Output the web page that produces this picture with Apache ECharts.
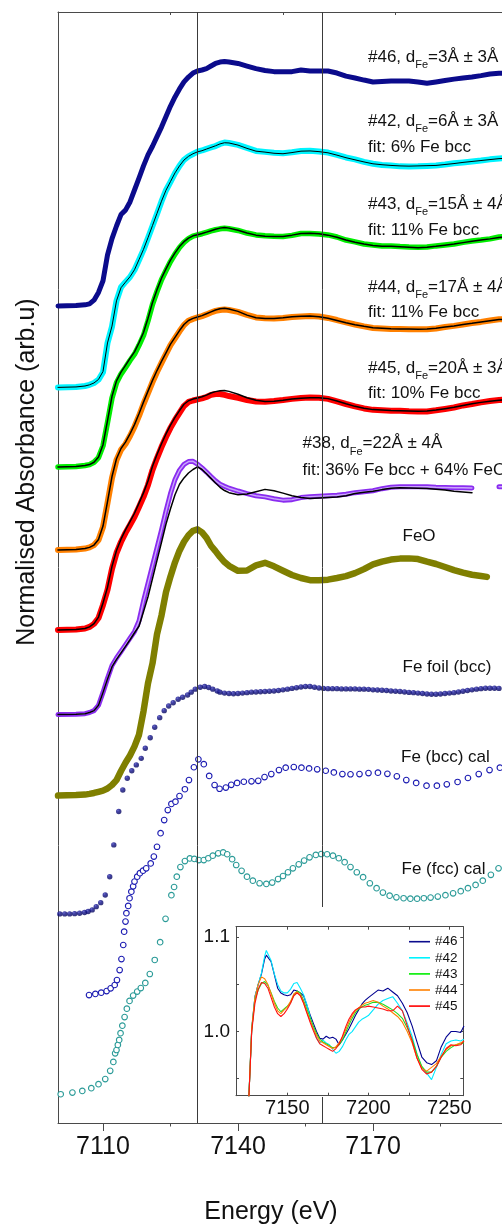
<!DOCTYPE html>
<html>
<head>
<meta charset="utf-8">
<script src="https://cdn.jsdelivr.net/npm/echarts@6/dist/echarts.min.js"></script>
<style>
html, body { margin: 0; padding: 0; background: #fff; }
#chart { width: 502px; height: 1225px; }
</style>
</head>
<body>
<div id="chart"></div>
<script>
// ---------------------------------------------------------------------------
// Fe K-edge XANES of the Fe/FeO films (normalised, stacked) with references
// ---------------------------------------------------------------------------

// Energy grid shared by the measured spectra (eV)
const energy = [7100, 7104, 7106, 7107, 7108, 7109, 7110, 7111, 7112, 7113, 7114, 7115, 7116, 7117, 7118,
  7119, 7120, 7121, 7122, 7123, 7124, 7125, 7126, 7127, 7128, 7129, 7130, 7131, 7132, 7133, 7134, 7135,
  7136, 7137, 7138, 7140, 7142, 7144, 7146, 7148, 7150, 7152, 7154, 7156, 7158, 7160, 7162, 7164, 7166,
  7168, 7170, 7172, 7174, 7176, 7178, 7180, 7182, 7184, 7186, 7188, 7190, 7192, 7194, 7196, 7198, 7200];

// Normalised absorbance of the samples and of their linear-combination fits
const s46 = [0, 0.002, 0.005, 0.009, 0.025, 0.058, 0.108, 0.218, 0.288, 0.342, 0.391, 0.41, 0.445, 0.496, 0.547,
  0.599, 0.646, 0.683, 0.724, 0.765, 0.81, 0.855, 0.894, 0.928, 0.958, 0.979, 0.996, 1.005, 1.009, 1.015, 1.026,
  1.037, 1.043, 1.045, 1.043, 1.037, 1.026, 1.015, 1.007, 1.002, 1.002, 1.002, 1.009, 1.005, 1.005, 1.005, 0.996,
  0.983, 0.975, 0.966, 0.958, 0.96, 0.962, 0.962, 0.962, 0.958, 0.952, 0.958, 0.964, 0.97, 0.975, 0.979, 0.985,
  0.992, 0.995, 0.996];

const s42 = [0, 0.002, 0.006, 0.011, 0.019, 0.033, 0.065, 0.19, 0.26, 0.37, 0.428, 0.451, 0.472, 0.502, 0.545,
  0.588, 0.639, 0.69, 0.742, 0.795, 0.843, 0.879, 0.916, 0.947, 0.973, 0.988, 0.998, 1.008, 1.013, 1.02, 1.026,
  1.032, 1.041, 1.047, 1.045, 1.037, 1.024, 1.011, 1.007, 1.003, 1.001, 1.005, 1.011, 1.012, 1.009, 1.004, 0.994,
  0.983, 0.975, 0.964, 0.956, 0.951, 0.949, 0.945, 0.944, 0.945, 0.947, 0.949, 0.953, 0.958, 0.962, 0.966, 0.97,
  0.975, 0.979, 0.981];
const fit42 = [0, 0.002, 0.006, 0.011, 0.019, 0.034, 0.068, 0.19, 0.262, 0.37, 0.426, 0.45, 0.473, 0.503, 0.546,
  0.59, 0.64, 0.692, 0.744, 0.796, 0.843, 0.88, 0.917, 0.947, 0.972, 0.988, 0.999, 1.007, 1.012, 1.019, 1.026,
  1.033, 1.041, 1.046, 1.045, 1.036, 1.022, 1.01, 1.006, 1.001, 0.999, 1.004, 1.01, 1.011, 1.008, 1.003, 0.993,
  0.982, 0.973, 0.964, 0.956, 0.952, 0.949, 0.947, 0.946, 0.947, 0.948, 0.949, 0.953, 0.957, 0.962, 0.966, 0.97,
  0.974, 0.978, 0.98];

const s43 = [0, 0.002, 0.006, 0.01, 0.02, 0.04, 0.09, 0.19, 0.295, 0.36, 0.397, 0.425, 0.455, 0.482, 0.52,
  0.562, 0.625, 0.695, 0.75, 0.8, 0.84, 0.878, 0.91, 0.938, 0.96, 0.976, 0.987, 0.992, 0.997, 1.003, 1.009,
  1.014, 1.018, 1.02, 1.018, 1.011, 1.0, 0.992, 0.988, 0.986, 0.985, 0.99, 0.998, 0.998, 0.996, 0.992, 0.983,
  0.97, 0.962, 0.953, 0.949, 0.945, 0.945, 0.942, 0.94, 0.939, 0.94, 0.945, 0.949, 0.953, 0.96, 0.966, 0.97,
  0.975, 0.983, 0.985];
const fit43 = [0, 0.002, 0.006, 0.01, 0.02, 0.042, 0.095, 0.198, 0.302, 0.368, 0.405, 0.434, 0.464, 0.492, 0.531,
  0.575, 0.636, 0.703, 0.758, 0.807, 0.847, 0.884, 0.915, 0.942, 0.963, 0.978, 0.988, 0.993, 0.998, 1.004, 1.01,
  1.016, 1.021, 1.024, 1.021, 1.012, 1.0, 0.991, 0.986, 0.985, 0.985, 0.991, 0.998, 0.999, 0.997, 0.991, 0.982,
  0.97, 0.961, 0.953, 0.947, 0.944, 0.943, 0.941, 0.939, 0.937, 0.939, 0.943, 0.948, 0.953, 0.959, 0.965, 0.97,
  0.975, 0.981, 0.984];

const s44 = [0, 0.002, 0.006, 0.011, 0.021, 0.043, 0.098, 0.201, 0.308, 0.385, 0.428, 0.453, 0.487, 0.527, 0.573,
  0.624, 0.671, 0.718, 0.761, 0.8, 0.838, 0.876, 0.905, 0.935, 0.962, 0.98, 0.988, 0.994, 1.0, 1.007, 1.015,
  1.022, 1.026, 1.028, 1.026, 1.018, 1.005, 0.994, 0.991, 0.99, 0.992, 0.996, 0.998, 1.0, 0.998, 0.992, 0.983,
  0.973, 0.964, 0.956, 0.949, 0.947, 0.945, 0.945, 0.944, 0.944, 0.944, 0.947, 0.953, 0.958, 0.964, 0.97, 0.975,
  0.981, 0.986, 0.988];
const fit44 = [0, 0.002, 0.006, 0.011, 0.021, 0.045, 0.102, 0.207, 0.314, 0.39, 0.434, 0.461, 0.496, 0.536, 0.582,
  0.632, 0.679, 0.725, 0.767, 0.806, 0.843, 0.88, 0.909, 0.938, 0.964, 0.981, 0.99, 0.996, 1.002, 1.01, 1.018,
  1.026, 1.031, 1.033, 1.03, 1.02, 1.004, 0.993, 0.99, 0.99, 0.993, 0.997, 0.999, 1.0, 0.997, 0.991, 0.981,
  0.971, 0.963, 0.956, 0.95, 0.948, 0.946, 0.945, 0.945, 0.944, 0.945, 0.948, 0.953, 0.958, 0.964, 0.969, 0.975,
  0.98, 0.985, 0.987];

const s45 = [0, 0.002, 0.006, 0.013, 0.026, 0.051, 0.107, 0.171, 0.261, 0.329, 0.376, 0.415, 0.449, 0.484, 0.526,
  0.569, 0.62, 0.684, 0.735, 0.782, 0.825, 0.864, 0.898, 0.928, 0.958, 0.975, 0.981, 0.986, 0.99, 0.996, 1.005,
  1.009, 1.009, 1.005, 1.0, 0.992, 0.983, 0.977, 0.976, 0.979, 0.983, 0.988, 0.992, 0.994, 0.993, 0.988, 0.977,
  0.966, 0.956, 0.947, 0.941, 0.939, 0.937, 0.937, 0.935, 0.934, 0.934, 0.939, 0.945, 0.951, 0.96, 0.966, 0.973,
  0.979, 0.983, 0.985];
const fit45 = [0, 0.002, 0.006, 0.013, 0.027, 0.055, 0.115, 0.182, 0.272, 0.34, 0.388, 0.428, 0.463, 0.499, 0.542,
  0.586, 0.637, 0.7, 0.75, 0.796, 0.838, 0.876, 0.909, 0.938, 0.965, 0.98, 0.987, 0.992, 0.997, 1.004, 1.013,
  1.019, 1.023, 1.024, 1.02, 1.008, 0.993, 0.982, 0.977, 0.978, 0.982, 0.987, 0.991, 0.993, 0.993, 0.989, 0.979,
  0.967, 0.956, 0.948, 0.942, 0.94, 0.938, 0.937, 0.936, 0.935, 0.936, 0.94, 0.946, 0.952, 0.96, 0.967, 0.973,
  0.978, 0.982, 0.984];

const s38 = [0, 0.002, 0.004, 0.009, 0.017, 0.04, 0.095, 0.155, 0.21, 0.242, 0.27, 0.298, 0.327, 0.355, 0.4,
  0.485, 0.561, 0.637, 0.713, 0.789, 0.87, 0.945, 1.005, 1.045, 1.07, 1.082, 1.083, 1.071, 1.055, 1.037, 1.018,
  1.0, 0.985, 0.976, 0.968, 0.956, 0.945, 0.936, 0.931, 0.923, 0.917, 0.919, 0.928, 0.932, 0.934, 0.936, 0.938,
  0.942, 0.949, 0.953, 0.957, 0.966, 0.972, 0.974, 0.974, 0.974, 0.974, 0.972, 0.971, 0.97, 0.97, 0.969, null,
  null, 0.974, 0.974];
const fit38 = [0, 0.002, 0.004, 0.009, 0.017, 0.04, 0.095, 0.152, 0.205, 0.236, 0.264, 0.292, 0.32, 0.35, 0.378,
  0.44, 0.504, 0.582, 0.66, 0.737, 0.815, 0.88, 0.94, 0.985, 1.012, 1.033, 1.048, 1.059, 1.048, 1.03, 1.01,
  0.99, 0.972, 0.958, 0.949, 0.94, 0.943, 0.953, 0.963, 0.957, 0.947, 0.936, 0.928, 0.924, 0.926, 0.928, 0.93,
  0.936, 0.945, 0.951, 0.955, 0.962, 0.968, 0.97, 0.969, 0.968, 0.967, 0.964, 0.96, 0.955, 0.952, 0.949, null,
  null, null, null];

// FeO reference
const feoEnergy = [7100, 7104, 7106, 7107, 7108, 7109, 7110, 7111, 7112, 7113, 7114, 7115, 7116, 7117, 7118,
  7119, 7120, 7121, 7122, 7123, 7124, 7125, 7126, 7127, 7128, 7129, 7130, 7131, 7132, 7133, 7134, 7135,
  7136, 7137, 7138, 7140, 7142, 7144, 7146, 7148, 7150, 7152, 7154, 7156, 7158, 7160, 7162, 7164, 7166,
  7168, 7170, 7172, 7174, 7176, 7178, 7180, 7182, 7184, 7186, 7188, 7190, 7192, 7194, 7195.3];
const feo = [0, 0.002, 0.004, 0.007, 0.011, 0.016, 0.021, 0.03, 0.045, 0.066, 0.105, 0.14, 0.171, 0.21, 0.26,
  0.36, 0.48, 0.565, 0.69, 0.77, 0.87, 0.937, 0.997, 1.047, 1.085, 1.113, 1.132, 1.138, 1.125, 1.102, 1.068,
  1.045, 1.02, 0.998, 0.982, 0.961, 0.962, 0.984, 0.995, 0.98, 0.961, 0.943, 0.93, 0.921, 0.921, 0.923, 0.93,
  0.938, 0.951, 0.968, 0.988, 1.0, 1.009, 1.013, 1.014, 1.011, 1.0, 0.99, 0.977, 0.964, 0.953, 0.944, 0.939,
  0.935];

// Fe foil (bcc) reference
const foilEnergy = [7100.4, 7101.5, 7102.6, 7103.7, 7104.8, 7105.9, 7106.7, 7107.6, 7108.5, 7109.5, 7110.5,
  7111.5, 7112.4, 7113.5, 7114.4, 7115.4, 7116.4, 7117.4, 7118.5, 7119.4, 7120.5, 7121.5, 7122.6, 7123.6,
  7124.6, 7125.6, 7126.7, 7127.7, 7128.8, 7129.6, 7130.5, 7131.6, 7132.6, 7133.5, 7134.4, 7135.4,
  7136, 7137, 7138, 7139, 7140, 7141, 7142, 7143, 7144, 7145, 7146, 7147, 7148, 7149, 7150, 7151, 7152,
  7153, 7154, 7155, 7156, 7157, 7158, 7159, 7160, 7161, 7162, 7163, 7164, 7165, 7166, 7167, 7168, 7169,
  7170, 7171, 7172, 7173, 7174, 7175, 7176, 7177, 7178, 7179, 7180, 7181, 7182, 7183, 7184, 7185, 7186,
  7187, 7188, 7189, 7190, 7191, 7192, 7193, 7194, 7195, 7196, 7197, 7198, 7199];
const foil = [0, 0, 0, 0.001, 0.003, 0.006, 0.01, 0.017, 0.031, 0.048, 0.081, 0.159, 0.295, 0.438, 0.53, 0.58,
  0.612, 0.637, 0.665, 0.708, 0.753, 0.798, 0.839, 0.869, 0.889, 0.903, 0.918, 0.926, 0.936, 0.948, 0.961,
  0.969, 0.972, 0.968, 0.961, 0.953,
  0.948, 0.944, 0.942, 0.941, 0.942, 0.944, 0.946, 0.948, 0.949, 0.95, 0.951, 0.952, 0.953, 0.955, 0.958,
  0.961, 0.964, 0.967, 0.97, 0.972, 0.972, 0.969, 0.966, 0.964, 0.963, 0.963, 0.963, 0.962, 0.962, 0.962,
  0.962, 0.961, 0.961, 0.96, 0.958, 0.957, 0.956, 0.955, 0.953, 0.952, 0.951, 0.949, 0.947, 0.946, 0.944,
  0.942, 0.94, 0.939, 0.939, 0.94, 0.942, 0.944, 0.946, 0.949, 0.952, 0.955, 0.958, 0.961, 0.963, 0.965,
  0.965, 0.965, 0.964, 0.962];

// Calculated Fe (bcc) spectrum
const bccEnergy = [7106.9, 7108.3, 7109.6, 7110.8, 7111.7, 7112.6, 7113.1, 7113.7, 7114.1, 7114.5, 7114.7,
  7115.0, 7115.2, 7115.6, 7115.9, 7116.3, 7116.7, 7117.0, 7117.6, 7118.2, 7118.9, 7119.6, 7120.6, 7121.3,
  7122.0, 7122.8, 7123.6, 7124.4, 7125.2, 7126.1, 7127.0, 7128.2, 7129.1, 7130.2, 7131.2, 7132.4, 7133.6,
  7134.8, 7135.9, 7137.3, 7138.5, 7139.8, 7141.3, 7143.0, 7144.5, 7145.9, 7147.4, 7149.1, 7150.6, 7152.4,
  7154.1, 7155.8, 7157.6, 7159.5, 7161.3, 7163.2, 7165.0, 7167.0, 7169.0, 7171.1, 7173.2, 7175.3, 7177.4,
  7179.6, 7181.9, 7184.2, 7186.4, 7188.8, 7191.1, 7193.5, 7195.9, 7198.2];
const bccCal = [0.004, 0.009, 0.014, 0.021, 0.033, 0.047, 0.068, 0.111, 0.158, 0.218, 0.275, 0.318, 0.354,
  0.385, 0.418, 0.446, 0.469, 0.489, 0.51, 0.525, 0.536, 0.546, 0.567, 0.596, 0.638, 0.696, 0.752, 0.795,
  0.821, 0.831, 0.855, 0.884, 0.923, 0.978, 1.012, 0.991, 0.941, 0.902, 0.886, 0.891, 0.903, 0.911, 0.916,
  0.918, 0.92, 0.936, 0.949, 0.966, 0.976, 0.979, 0.976, 0.973, 0.969, 0.963, 0.956, 0.949, 0.948, 0.949,
  0.953, 0.955, 0.95, 0.939, 0.923, 0.911, 0.899, 0.899, 0.905, 0.915, 0.932, 0.949, 0.966, 0.976];

// Calculated Fe (fcc) spectrum
const fccEnergy = [7100.6, 7103.2, 7105.4, 7107.4, 7109.0, 7110.5, 7111.6, 7112.3, 7112.7, 7113.0, 7113.3,
  7113.6, 7113.9, 7114.3, 7114.8, 7115.3, 7115.9, 7116.7, 7117.6, 7118.4, 7119.4, 7120.4, 7121.5, 7122.7,
  7123.9, 7125.2, 7125.8, 7126.4, 7127.2, 7128.2, 7129.3, 7130.3, 7131.3, 7132.4, 7133.4, 7134.4, 7135.6,
  7136.7, 7137.6, 7138.7, 7139.6, 7140.8, 7142.0, 7143.3, 7144.8, 7146.3, 7147.6, 7148.9, 7150.0, 7151.1,
  7152.2, 7153.5, 7154.7, 7155.9, 7157.3, 7158.5, 7159.8, 7161.1, 7162.4, 7163.7, 7165.0, 7166.4, 7167.8,
  7169.3, 7170.8, 7172.2, 7173.7, 7175.2, 7176.8, 7178.3, 7179.8, 7181.3, 7182.8, 7184.4, 7186.1, 7187.8,
  7189.5, 7191.1, 7192.8, 7194.4, 7196.2, 7197.9];
const fccCal = [0.003, 0.01, 0.017, 0.029, 0.046, 0.068, 0.103, 0.141, 0.178, 0.192, 0.214, 0.235, 0.264,
  0.296, 0.333, 0.369, 0.402, 0.425, 0.442, 0.457, 0.479, 0.517, 0.577, 0.653, 0.753, 0.854, 0.889, 0.933,
  0.974, 1.0, 1.011, 1.009, 1.004, 1.004, 1.012, 1.023, 1.033, 1.037, 1.029, 1.008, 0.983, 0.958, 0.933,
  0.916, 0.905, 0.902, 0.908, 0.923, 0.936, 0.952, 0.969, 0.986, 1.002, 1.016, 1.026, 1.03, 1.029, 1.023,
  1.012, 0.995, 0.974, 0.952, 0.931, 0.905, 0.884, 0.865, 0.852, 0.845, 0.841, 0.839, 0.839, 0.841, 0.844,
  0.848, 0.854, 0.862, 0.871, 0.884, 0.898, 0.916, 0.941, 0.969];

// Vertical offsets used to stack the curves
const offsets = { s46: 3.493, s42: 3.145, s43: 2.805, s44: 2.45, s45: 2.108, s38: 1.746,
  feo: 1.4, foil: 0.894, bcc: 0.543, fcc: 0.12 };

// Guide lines at the white-line and first EXAFS features (eV)
const guideEnergies = [7131.0, 7158.8];

// Inset: post-edge region of the five thin films (unshifted)
const insetEnergy = [7125.5, 7128, 7130, 7132, 7134, 7136, 7137, 7138, 7140, 7142, 7144, 7146, 7148, 7150,
  7152, 7154, 7156, 7158, 7160, 7162, 7164, 7166, 7168, 7170, 7172, 7174, 7176, 7178, 7180, 7182, 7184,
  7186, 7188, 7190, 7192, 7194, 7196, 7198, 7200, 7203, 7206, 7209, 7212, 7215, 7218, 7221, 7224, 7227,
  7230, 7233, 7236, 7239, 7242, 7245, 7248, 7251, 7254, 7257, 7259];
const in46 = [0.90, 1.002, 1.037, 1.05, 1.061, 1.077, 1.081, 1.08, 1.074, 1.06, 1.046, 1.041, 1.039, 1.038,
  1.039, 1.044, 1.043, 1.041, 1.038, 1.028, 1.018, 1.009, 1.0, 0.993, 0.992, 0.995, 0.993, 0.994, 0.992, 0.986,
  0.991, 0.997, 1.003, 1.01, 1.017, 1.023, 1.029, 1.033, 1.036, 1.04, 1.044, 1.043, 1.046, 1.042, 1.038, 1.03,
  1.02, 1.006, 0.989, 0.973, 0.967, 0.965, 0.969, 0.984, 0.994, 1.0, 1.0, 0.999, 1.006];
const in42 = [0.90, 1.004, 1.037, 1.05, 1.062, 1.08, 1.086, 1.084, 1.075, 1.061, 1.05, 1.043, 1.041, 1.041,
  1.045, 1.051, 1.052, 1.046, 1.039, 1.029, 1.016, 1.004, 0.993, 0.988, 0.991, 0.988, 0.986, 0.981, 0.977,
  0.979, 0.984, 0.991, 0.997, 1.0, 1.005, 1.01, 1.013, 1.015, 1.017, 1.023, 1.029, 1.033, 1.035, 1.037, 1.03,
  1.022, 1.009, 0.995, 0.976, 0.962, 0.956, 0.949, 0.962, 0.976, 0.987, 0.99, 0.991, 0.99, 0.992];
const in43 = [0.90, 1.002, 1.034, 1.044, 1.051, 1.053, 1.052, 1.049, 1.041, 1.032, 1.025, 1.021, 1.024, 1.027,
  1.031, 1.039, 1.043, 1.041, 1.033, 1.024, 1.015, 1.006, 0.998, 0.992, 0.989, 0.987, 0.985, 0.983, 0.983,
  0.986, 0.991, 0.999, 1.007, 1.014, 1.02, 1.024, 1.026, 1.028, 1.029, 1.031, 1.031, 1.029, 1.026, 1.023,
  1.019, 1.014, 1.004, 0.992, 0.976, 0.963, 0.957, 0.957, 0.963, 0.973, 0.979, 0.983, 0.986, 0.987, 0.988];
const in44 = [0.90, 1.004, 1.036, 1.05, 1.058, 1.056, 1.053, 1.05, 1.04, 1.03, 1.022, 1.019, 1.023, 1.026,
  1.032, 1.04, 1.042, 1.039, 1.031, 1.021, 1.012, 1.003, 0.996, 0.99, 0.988, 0.986, 0.984, 0.982, 0.984, 0.988,
  0.994, 1.002, 1.01, 1.017, 1.022, 1.025, 1.028, 1.03, 1.031, 1.033, 1.031, 1.027, 1.024, 1.02, 1.016, 1.01,
  1.0, 0.988, 0.972, 0.961, 0.958, 0.962, 0.966, 0.974, 0.981, 0.985, 0.986, 0.988, 0.99];
const in45 = [0.90, 1.0, 1.03, 1.045, 1.052, 1.051, 1.049, 1.046, 1.036, 1.026, 1.019, 1.016, 1.019, 1.024,
  1.03, 1.038, 1.041, 1.038, 1.03, 1.02, 1.01, 1.001, 0.993, 0.987, 0.985, 0.983, 0.981, 0.979, 0.982, 0.987,
  0.995, 1.005, 1.013, 1.019, 1.023, 1.025, 1.026, 1.026, 1.027, 1.026, 1.025, 1.024, 1.022, 1.022, 1.027,
  1.022, 1.006, 0.99, 0.972, 0.96, 0.955, 0.957, 0.963, 0.973, 0.982, 0.986, 0.985, 0.986, 0.99];

// Axis ticks
const mainTicks = [7110, 7140, 7170];
const mainMinorTicks = [7125, 7155, 7185];
const mainTopTicks = [7125, 7150, 7175];
const insetXTicks = [7150, 7175, 7200, 7225, 7250];
const insetXLabels = [7150, 7200, 7250];
const insetYTicks = [0.95, 1.0, 1.05, 1.1];
const insetYLabels = [1.0, 1.1];

// ---------------------------------------------------------------------------
const FONT = "'Liberation Sans', Arial, Helvetica, sans-serif";
const AXIS = '#4a4a4a';
const TEXT = '#111';

function stacked(xs, ys, off) {
  return xs.map((x, i) => [x, ys[i] == null ? '-' : +(ys[i] + off).toFixed(4)]);
}
function plain(xs, ys) {
  return xs.map((x, i) => [x, ys[i]]);
}

function band(name, xs, ys, off, color, width) {
  return {
    name, type: 'line', xAxisIndex: 0, yAxisIndex: 0,
    data: stacked(xs, ys, off), symbol: 'none', showSymbol: false, connectNulls: false,
    lineStyle: { color, width, cap: 'round', join: 'round' }, itemStyle: { color },
    silent: true, animation: false
  };
}
function fitLine(name, xs, ys, off, width) {
  return band(name, xs, ys, off, '#000', width);
}
function openPoints(name, xs, ys, off, color) {
  return {
    name, type: 'scatter', xAxisIndex: 0, yAxisIndex: 0,
    data: stacked(xs, ys, off), symbol: 'circle', symbolSize: 5.6,
    itemStyle: { color: '#fff', borderColor: color, borderWidth: 1.1, opacity: 1 },
    silent: true, animation: false
  };
}

const series = [];

// calculated references (open circles)
const fccSeries = openPoints('Fe (fcc) cal', fccEnergy, fccCal, offsets.fcc, '#2b9b98');
fccSeries.markLine = {
  silent: true, symbol: ['none', 'none'], label: { show: false },
  lineStyle: { color: '#3a3a3a', width: 1, type: 'solid' },
  emphasis: { disabled: true }, animation: false,
  data: guideEnergies.map(e => ({ xAxis: e }))
};
series.push(fccSeries);
series.push(openPoints('Fe (bcc) cal', bccEnergy, bccCal, offsets.bcc, '#1c1cb2'));

// Fe foil (shaded filled circles)
series.push({
  name: 'Fe foil (bcc)', type: 'scatter', xAxisIndex: 0, yAxisIndex: 0,
  data: stacked(foilEnergy, foil, offsets.foil), symbol: 'circle', symbolSize: 5.4,
  itemStyle: {
    color: new echarts.graphic.RadialGradient(0.35, 0.3, 0.7, [
      { offset: 0, color: '#4a4ac0' }, { offset: 0.35, color: '#12128f' }, { offset: 1, color: '#05055c' }
    ])
  },
  silent: true, animation: false
});

// FeO
series.push(band('FeO', feoEnergy, feo, offsets.feo, '#7f7f00', 6.5));

// samples with fits; #38 is an open-circle trace, drawn as a band with a pale core
series.push(band('#38', energy, s38, offsets.s38, '#8a2cf0', 5));
series.push(band('#38 core', energy, s38, offsets.s38, '#c9a6fb', 1.4));
series.push(fitLine('#38 fit', energy, fit38, offsets.s38, 1.5));
series.push(band('#45', energy, s45, offsets.s45, '#ff0000', 6));
series.push(fitLine('#45 fit', energy, fit45, offsets.s45, 1.5));
series.push(band('#44', energy, s44, offsets.s44, '#ff8000', 6));
series.push(fitLine('#44 fit', energy, fit44, offsets.s44, 1.5));
series.push(band('#43', energy, s43, offsets.s43, '#00ee00', 5.5));
series.push(fitLine('#43 fit', energy, fit43, offsets.s43, 1.5));
series.push(band('#42', energy, s42, offsets.s42, '#00f4ff', 6));
series.push(fitLine('#42 fit', energy, fit42, offsets.s42, 1));
series.push(band('#46', energy, s46, offsets.s46, '#0b0b8c', 5));

// inset lines
const insetSets = [
  ['#46', in46, '#000090'], ['#42', in42, '#00e8ff'], ['#43', in43, '#22dd22'],
  ['#44', in44, '#ff8000'], ['#45', in45, '#ff1010']
];
insetSets.forEach(([name, ys, color]) => {
  series.push({
    name, type: 'line', xAxisIndex: 3, yAxisIndex: 1, data: plain(insetEnergy, ys),
    symbol: 'none', showSymbol: false, clip: true, z: 60,
    lineStyle: { color, width: 1.1 }, itemStyle: { color },
    silent: true, animation: false
  });
});

// ---------------------------------------------------------------------------
// text annotations
const annotations = [
  { x: 368, y: 57, pre: '#46, d', sub: 'Fe', post: '=3Å ± 3Å' },
  { x: 368, y: 121, pre: '#42, d', sub: 'Fe', post: '=6Å ± 3Å' },
  { x: 368, y: 147, text: 'fit: 6% Fe bcc' },
  { x: 368, y: 204, pre: '#43, d', sub: 'Fe', post: '=15Å ± 4Å' },
  { x: 368, y: 230, text: 'fit: 11% Fe bcc' },
  { x: 368, y: 287, pre: '#44, d', sub: 'Fe', post: '=17Å ± 4Å' },
  { x: 368, y: 312, text: 'fit: 11% Fe bcc' },
  { x: 368, y: 368, pre: '#45, d', sub: 'Fe', post: '=20Å ± 3Å' },
  { x: 368, y: 393, text: 'fit: 10% Fe bcc' },
  { x: 302.5, y: 443.5, pre: '#38, d', sub: 'Fe', post: '=22Å ± 4Å' },
  { x: 302.5, y: 470, text: 'fit: 36% Fe bcc + 64% FeO' },
  { x: 402.5, y: 536, text: 'FeO' },
  { x: 402.5, y: 667, text: 'Fe foil (bcc)' },
  { x: 401, y: 757, text: 'Fe (bcc) cal' },
  { x: 401.5, y: 869, text: 'Fe (fcc) cal' }
];
const MAIN_SIZE = 17, SUB_SIZE = 11;
const ctx = document.createElement('canvas').getContext('2d');
function textWidth(str, size) { ctx.font = size + 'px ' + FONT; return ctx.measureText(str).width; }
function textEl(x, y, str, size, extra) {
  return Object.assign({
    type: 'text', x, y, z: 100, silent: true,
    style: { text: str, fontSize: size, fontFamily: FONT, fill: TEXT, align: 'left', verticalAlign: 'middle' }
  }, extra || {});
}
const graphics = [];
// white panel under the inset
graphics.push({ type: 'rect', z: 50, silent: true, shape: { x: 200, y: 907, width: 302, height: 190 }, style: { fill: '#fff' } });
annotations.forEach(a => {
  if (a.sub) {
    const w1 = textWidth(a.pre, MAIN_SIZE);
    const w2 = textWidth(a.sub, SUB_SIZE);
    graphics.push(textEl(a.x, a.y, a.pre, MAIN_SIZE));
    graphics.push(textEl(a.x + w1, a.y + 8, a.sub, SUB_SIZE));
    graphics.push(textEl(a.x + w1 + w2, a.y, a.post, MAIN_SIZE));
  } else {
    graphics.push(textEl(a.x, a.y, a.text, MAIN_SIZE));
  }
});
// axis titles
graphics.push({
  type: 'text', x: 271, y: 1212, z: 100, silent: true,
  style: { text: 'Energy (eV)', fontSize: 25, fontFamily: FONT, fill: TEXT, align: 'center', verticalAlign: 'middle' }
});
graphics.push({
  type: 'text', x: 27, y: 472, rotation: Math.PI / 2, z: 100, silent: true,
  style: { text: 'Normalised Absorbance (arb.u)', fontSize: 25, fontFamily: FONT, fill: TEXT, align: 'center', verticalAlign: 'middle' }
});

// ---------------------------------------------------------------------------
const noSplit = { show: false };
const plainNumber = v => String(v);
const option = {
  animation: false,
  backgroundColor: '#fff',
  grid: [
    { left: 58, top: 12, width: 444, height: 1111, containLabel: false, outerBoundsMode: 'none', show: false },
    { left: 236, top: 926.7, width: 227.3, height: 169, containLabel: false, outerBoundsMode: 'none', show: false }
  ],
  xAxis: [
    { // 0: main energy axis
      type: 'value', gridIndex: 0, position: 'bottom', min: 7100, max: 7198.67,
      axisLine: { show: true, onZero: false, lineStyle: { color: AXIS, width: 1 } },
      axisTick: { show: true, inside: false, length: 8, customValues: mainTicks, lineStyle: { color: AXIS, width: 1 } },
      axisLabel: { show: true, customValues: mainTicks, formatter: plainNumber, fontSize: 25, fontFamily: FONT, color: TEXT, margin: 12 },
      splitLine: noSplit
    },
    { // 1: minor ticks of the energy axis
      type: 'value', gridIndex: 0, position: 'bottom', min: 7100, max: 7198.67,
      axisLine: { show: false, onZero: false },
      axisTick: { show: true, inside: false, length: 3.5, customValues: mainMinorTicks, lineStyle: { color: AXIS, width: 1 } },
      axisLabel: { show: false }, splitLine: noSplit
    },
    { // 2: top frame
      type: 'value', gridIndex: 0, position: 'top', min: 7100, max: 7198.67,
      axisLine: { show: true, onZero: false, lineStyle: { color: AXIS, width: 1 } },
      axisTick: { show: true, inside: true, length: 3, customValues: mainTopTicks, lineStyle: { color: AXIS, width: 1 } },
      axisLabel: { show: false }, splitLine: noSplit
    },
    { // 3: inset bottom
      type: 'value', gridIndex: 1, position: 'bottom', min: 7118.3, max: 7258.6, z: 60,
      axisLine: { show: true, onZero: false, lineStyle: { color: AXIS, width: 1 } },
      axisTick: { show: true, inside: true, length: 3, customValues: insetXTicks, lineStyle: { color: AXIS, width: 1 } },
      axisLabel: { show: true, customValues: insetXLabels, formatter: plainNumber, fontSize: 20, fontFamily: FONT, color: TEXT, margin: 3 },
      splitLine: noSplit
    },
    { // 4: inset top
      type: 'value', gridIndex: 1, position: 'top', min: 7118.3, max: 7258.6, z: 60,
      axisLine: { show: true, onZero: false, lineStyle: { color: AXIS, width: 1 } },
      axisTick: { show: true, inside: true, length: 3, customValues: insetXTicks, lineStyle: { color: AXIS, width: 1 } },
      axisLabel: { show: false }, splitLine: noSplit
    }
  ],
  yAxis: [
    { // 0: main absorbance axis
      type: 'value', gridIndex: 0, position: 'left', min: 0, max: 4.75,
      axisLine: { show: true, onZero: false, lineStyle: { color: AXIS, width: 1 } },
      axisTick: { show: false }, axisLabel: { show: false }, splitLine: noSplit
    },
    { // 1: inset left
      type: 'value', gridIndex: 1, position: 'left', min: 0.932, max: 1.1112, z: 60,
      axisLine: { show: true, onZero: false, lineStyle: { color: AXIS, width: 1 } },
      axisTick: { show: true, inside: true, length: 3, customValues: insetYTicks, lineStyle: { color: AXIS, width: 1 } },
      axisLabel: { show: true, customValues: insetYLabels, formatter: v => v.toFixed(1), fontSize: 19, fontFamily: FONT, color: TEXT, margin: 6 },
      splitLine: noSplit
    },
    { // 2: inset right
      type: 'value', gridIndex: 1, position: 'right', min: 0.932, max: 1.1112, z: 60,
      axisLine: { show: true, onZero: false, lineStyle: { color: AXIS, width: 1 } },
      axisTick: { show: true, inside: true, length: 3, customValues: insetYTicks, lineStyle: { color: AXIS, width: 1 } },
      axisLabel: { show: false }, splitLine: noSplit
    }
  ],
  legend: {
    show: true, orient: 'vertical', left: 409, top: 934.7, z: 70,
    icon: 'rect', itemWidth: 21, itemHeight: 1.6, itemGap: 2.1, selectedMode: false,
    data: insetSets.map(s => s[0]),
    textStyle: { fontSize: 13.5, lineHeight: 14, fontFamily: FONT, color: TEXT },
    backgroundColor: 'transparent', padding: 0
  },
  graphic: { elements: graphics },
  series
};

const chart = echarts.init(document.getElementById('chart'), null, { renderer: 'canvas', width: 502, height: 1225 });
chart.setOption(option);
</script>
</body>
</html>
